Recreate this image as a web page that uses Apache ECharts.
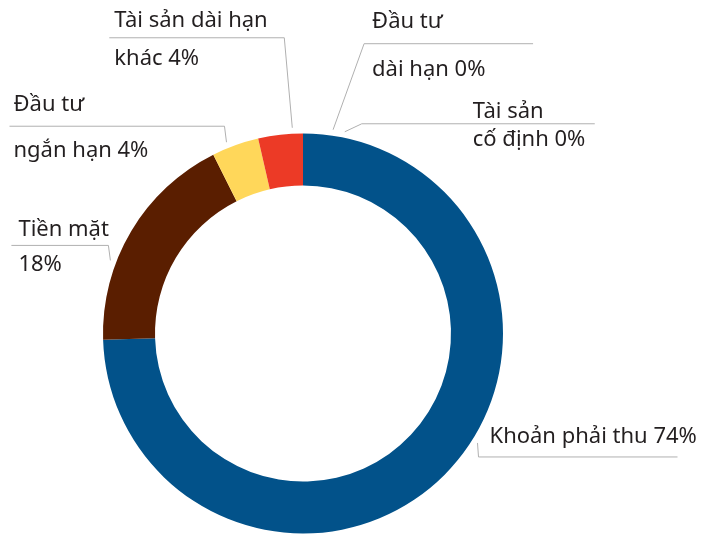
<!DOCTYPE html>
<html>
<head>
<meta charset="utf-8">
<script src="https://cdn.jsdelivr.net/npm/echarts@6/dist/echarts.min.js"></script>
<style>
  html, body { margin: 0; padding: 0; background: #fff; }
  #chart { width: 723px; height: 534px; }
</style>
</head>
<body>
<div id="chart"></div>
<script>
// co cau tai san (%), thu tu theo chieu kim dong ho tu dinh vong
var categories = ['Tài sản\ncố định', 'Đầu tư\ndài hạn', 'Khoản phải thu', 'Tiền mặt\n', 'Đầu tư\nngắn hạn', 'Tài sản dài hạn\nkhác'];
var values = [0, 0, 74.5, 18.1, 3.8, 3.6];
var colors = ['#999999', '#999999', '#02528a', '#5a1e00', '#ffd75a', '#ec3a26'];

// bo cuc nhan: goc lech diem neo (do), diem gap (so voi diem neo), doan ngang, dich chu
var side = ['right', 'right', 'right', 'left', 'left', 'left'];
var anchorTurn = [11.7, 8.4, -12, -10, -2, 3.5];
var bendX = [17, 31, 1, -2, -2, -8];
var bendY = [-8, -86, 14, -15, -16, -90];
var lineRun = [233, 169, 199, 97, 215, 175];
var textShift = [111, 8, 11, 7, 4, 5];
var textLineHeight = [28, 48, 30, 35, 46, 38];

var CENTER = [303, 333.5];
var OUTER = 200;

var chart = echarts.init(document.getElementById('chart'));

var data = categories.map(function (name, i) {
  return {
    name: name,
    value: values[i],
    itemStyle: { color: colors[i] },
    label: { lineHeight: textLineHeight[i] }
  };
});

chart.setOption({
  animation: false,
  series: [{
    type: 'pie',
    center: CENTER,
    radius: [148, OUTER],
    startAngle: 90,
    clockwise: true,
    percentPrecision: 0,
    avoidLabelOverlap: false,
    data: data,
    label: {
      show: true,
      color: '#231f20',
      fontFamily: 'Noto Sans',
      fontSize: 22,
      overflow: 'none',
      formatter: function (p) {
        var n = p.name;
        return n.charAt(n.length - 1) === '\n' ? n + p.percent + '%' : n + ' ' + p.percent + '%';
      }
    },
    labelLine: {
      show: true,
      length: 10,
      length2: 10,
      lineStyle: { color: '#b0b0b0', width: 1 }
    },
    labelLayout: function (p) {
      var pts = p.labelLinePoints;
      if (!pts) return {};
      var i = p.dataIndex;
      // goc giua lat cat (lay tu diem dau duong dan cua echarts), xoay them mot chut
      var ang = Math.atan2(pts[0][0] - CENTER[0], CENTER[1] - pts[0][1]) + anchorTurn[i] * Math.PI / 180;
      var r = OUTER + 6;
      var a = [CENTER[0] + r * Math.sin(ang), CENTER[1] - r * Math.cos(ang)];
      var b = [a[0] + bendX[i], a[1] + bendY[i]];
      var single = categories[i].indexOf('\n') < 0;
      var lineEnd, textX;
      if (side[i] === 'right') {
        lineEnd = b[0] + lineRun[i];
        textX = b[0] + textShift[i];
      } else {
        lineEnd = b[0] - lineRun[i];
        textX = lineEnd + textShift[i];
      }
      return {
        x: textX,
        y: single ? b[1] - 20 : b[1] + 2,
        align: 'left',
        verticalAlign: 'middle',
        labelLinePoints: [a, b, [lineEnd, b[1]]]
      };
    }
  }]
});
</script>
</body>
</html>
